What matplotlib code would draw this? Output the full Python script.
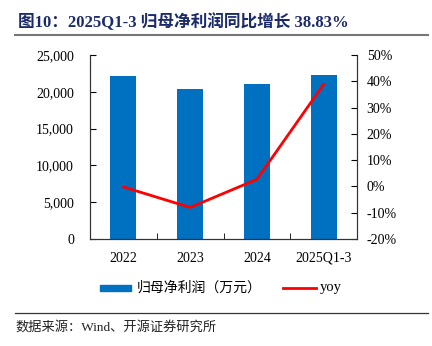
import matplotlib
matplotlib.use("Agg")
import matplotlib.pyplot as plt
from matplotlib.ticker import FuncFormatter, MultipleLocator
from matplotlib.lines import Line2D
from matplotlib.patches import Rectangle

categories = ["2022", "2023", "2024", "2025Q1-3"]
profit = [22190, 20420, 21020, 22250]
yoy = [-0.2, -8.0, 2.7, 38.83]

serif = ["Liberation Serif", "Noto Sans CJK SC"]
plt.rcParams['font.family'] = serif

fig = plt.figure(figsize=(4.32, 3.46), dpi=100)
ax = fig.add_axes([90/432, 1-239/346, 267/432, 184/346])
ax2 = ax.twinx()

x = list(range(len(categories)))
ax.bar(x, profit, width=0.39, color="#0070C0", zorder=2)
ax.set_xlim(-0.5, 3.5)
ax.set_ylim(0, 25000)
ax.yaxis.set_major_locator(MultipleLocator(5000))
ax.yaxis.set_major_formatter(FuncFormatter(lambda v, p: f"{int(v):,}"))
ax.set_xticks(x)
ax.set_xticklabels(categories)
ax.set_xticks([0.5, 1.5, 2.5], minor=True)
ax.tick_params(axis='x', which='major', length=0, labelsize=10, pad=9)
ax.tick_params(axis='x', which='minor', direction='in', length=4)
ax.tick_params(axis='y', direction='in', length=4, labelsize=10, pad=11.5)

ax2.plot(x, yoy, color="#FF0000", lw=2.0, zorder=3)
ax2.set_ylim(-20, 50)
ax2.yaxis.set_major_locator(MultipleLocator(10))
ax2.yaxis.set_major_formatter(FuncFormatter(lambda v, p: f"{int(round(v))}%"))
ax2.tick_params(axis='y', direction='in', length=4, labelsize=10, pad=7)

for a in (ax, ax2):
    a.spines['top'].set_visible(False)
    for s in a.spines.values():
        s.set_color("#333333")
        s.set_linewidth(0.8)

# legend drawn manually in figure pixel coordinates
def fx(px):
    return px / 432
def fy(py):
    return 1 - py / 346

fig.add_artist(Rectangle((fx(100), fy(291)), fx(131) - fx(100), 6/346,
                         color="#0070C0", transform=fig.transFigure))
fig.text(fx(137), fy(288), "归母净利润（万元）", fontsize=10, va='center', ha='left')
fig.add_artist(Line2D([fx(283), fx(316)], [fy(288), fy(288)], color="#FF0000", lw=2.0))
fig.text(fx(320), fy(288), "yoy", fontsize=10.5, va='center', ha='left')

fig.text(fx(18), fy(22), "图10：2025Q1-3 归母净利润同比增长 38.83%",
         fontsize=12, fontweight='bold', color="#1B2A6B", va='center', ha='left')
fig.add_artist(Line2D([fx(15), fx(428)], [fy(35), fy(35)], color="#777777", lw=1.5))
fig.add_artist(Line2D([fx(15), fx(428)], [fy(313), fy(313)], color="#333333", lw=0.9))
fig.text(fx(15), fy(327), "数据来源：Wind、开源证券研究所", fontsize=9.5,
         color="#222222", va='center', ha='left')

fig.savefig("out.png", dpi=100)
